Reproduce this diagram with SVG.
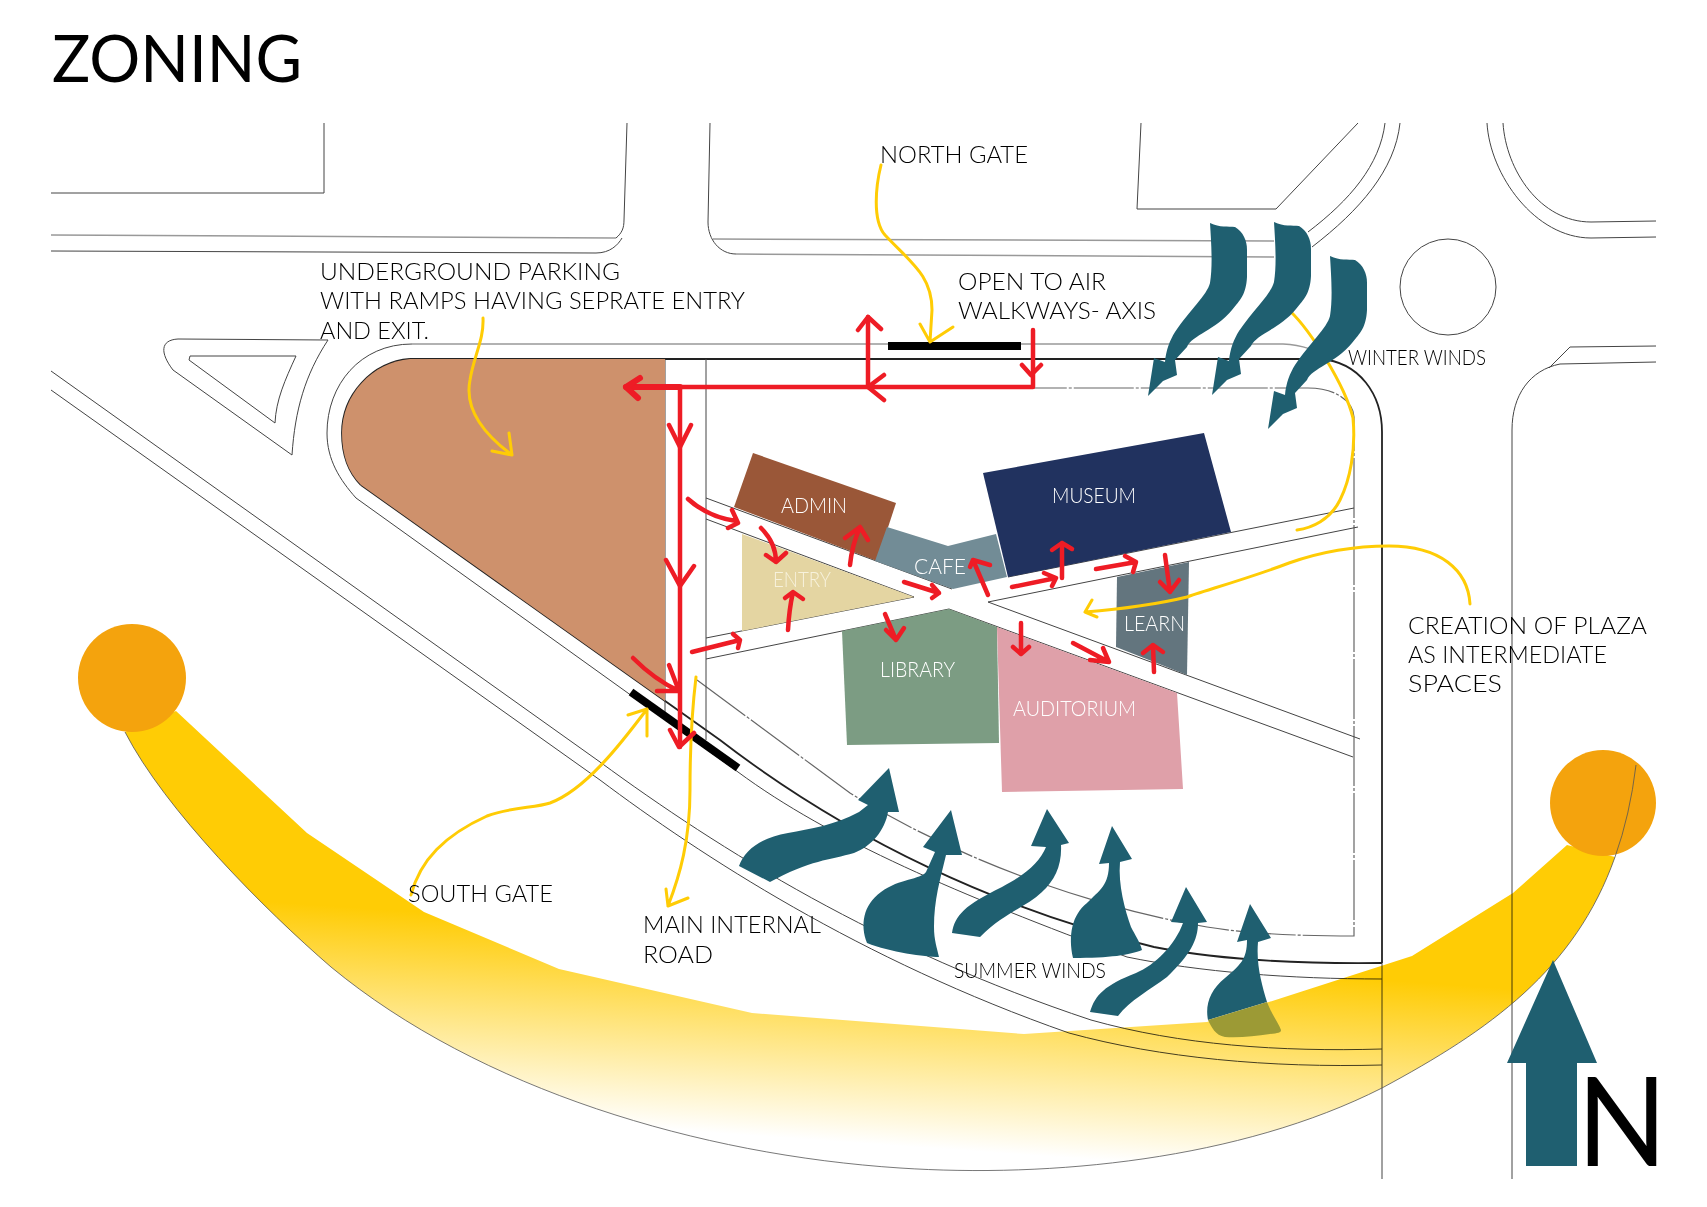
<svg xmlns="http://www.w3.org/2000/svg" width="1707" height="1207" viewBox="0 0 1707 1207">
<style>
text{font-family:"Lato","Liberation Sans",sans-serif;font-weight:300;fill:#000}
.l{font-size:24px}.m{font-size:21px}
.w{fill:#fff;font-size:21px}
.site{fill:none;stroke:#444;stroke-width:1}
.g{fill:none;stroke:#999;stroke-width:1.5}
.dash{fill:none;stroke:#666;stroke-width:1.2;stroke-dasharray:60 2 3 2}
.b{fill:none;stroke:#222;stroke-width:1.8}
.y{fill:none;stroke:#FFCC05;stroke-width:3;stroke-linecap:round;stroke-linejoin:round}
.r{fill:none;stroke:#EE1C25;stroke-width:4.5;stroke-linecap:round;stroke-linejoin:round}
.t{fill:#1F5F70}
</style>
<defs>
<linearGradient id="beamG" gradientUnits="userSpaceOnUse" x1="800" y1="939" x2="786" y2="1138">
<stop offset="0" stop-color="#FFCC05"/><stop offset="1" stop-color="#FFFFFF"/>
</linearGradient>
<path id="winter" d="M1210 223 C1220 228 1228 226 1235 227 C1243 232 1247 240 1247 250 L1247 277 C1246 295 1240 300 1232 310 C1216 330 1192 335 1187 347 L1175 360 L1177 375 L1163 381 L1148 396 L1154 358 L1165 362 C1166 350 1170 340 1175 332 C1190 310 1207 295 1210 283 C1213 265 1211 240 1210 223Z"/>
</defs>

<g id="site-lines">
<path class="site" d="M51 193H324V123"/>
<path class="g" d="M51 235L616 238"/>
<path class="site" d="M616 238C622 233 624 228 624 220L627 123"/>
<path class="site" d="M51 251L596 253C610 253 618 245 622 238"/>
<path class="site" d="M710 123L708 222C708 240 720 254 736 254"/>
<path class="g" d="M713 239L1274 241M736 254L1274 257"/>
<path class="site" d="M1141 123L1137 209H1276L1358 123"/>
<path class="site" d="M1308 232C1350 200 1380 165 1385 123M1312 247C1360 210 1395 170 1400 123"/>
<path class="site" d="M1487 123C1490 175 1535 238 1591 238L1656 237M1503 123C1506 170 1540 222 1591 222L1656 221"/>
<circle class="site" cx="1448" cy="287" r="48"/>
<path class="site" d="M1656 346L1570 347L1549 368M1656 362L1560 364C1530 370 1512 395 1512 430V1179"/>
<path class="g" d="M412 344H1283C1305 345 1320 352 1330 360"/>
<path class="site" d="M412 344C360 344 327 385 327 433C327 460 340 480 356 498L738 772C830 840 960 895 1127 957C1200 972 1290 979 1382 979"/>
<path class="b" d="M410 359H1320C1360 362 1382 395 1382 432V963"/>
<path class="b" d="M361 485L720 740C850 840 1000 910 1154 947C1220 960 1300 964 1382 963"/>
<path class="b" d="M410 359C372 362 342 395 342 433C342 455 348 472 361 485"/>
<path class="site" d="M1382 963V1179" stroke="#888"/>
<path class="site" d="M51 371L600 762C720 850 880 950 1091 1020C1180 1045 1280 1052 1382 1049"/>
<path class="site" d="M51 390L600 780C700 855 860 960 1069 1033C1160 1058 1270 1068 1382 1065"/>
<path class="dash" d="M697 680L850 793C950 855 1080 905 1207 927C1250 934 1300 936 1354 936V417C1354 405 1340 388 1308 388H1033"/>
<path class="site" d="M178 339L328 340C305 375 295 410 292 455L173 370C160 353 160 340 178 339Z"/>
<path class="site" d="M190 356H296C285 380 276 400 275 423L189 360Z"/>
<path class="site" d="M665 359V713M706 359V740"/>
<path class="site" d="M706 498L952 589M706 519L914 597M988 602L1360 739M949 609L1353 757M1008 577L1354 508M988 602L1358 527M706 638L914 597M706 659L949 609"/>
</g>

<g id="node-parking"><path d="M410 359H665V701L361 485C348 472 342 455 342 433C342 395 372 362 410 359Z" fill="#CE916C"/></g>
<g id="node-admin"><path d="M753 453L896 503L877 561L734 507Z" fill="#9A5738"/><text class="w" x="781" y="513" textLength="66" lengthAdjust="spacingAndGlyphs">ADMIN</text></g>
<g id="node-cafe"><path d="M887 527L948 546L996 534L1007 577L953 589L875 561Z" fill="#728C96"/><text class="w" x="914" y="574" textLength="52" lengthAdjust="spacingAndGlyphs">CAFE</text></g>
<g id="node-entry"><path d="M742 534L914 597L742 631Z" fill="#E4D5A2"/><text class="w" style="fill:#F7F2DC" x="773" y="587" textLength="58" lengthAdjust="spacingAndGlyphs">ENTRY</text></g>
<g id="node-museum"><path d="M983 473L1204 433L1231 532L1008 577Z" fill="#21325F"/><text class="w" x="1052" y="503" textLength="84" lengthAdjust="spacingAndGlyphs">MUSEUM</text></g>
<g id="node-learn"><path d="M1117 577L1189 562L1187 675L1116 647Z" fill="#63757E"/><text class="w" x="1124" y="631" textLength="61" lengthAdjust="spacingAndGlyphs">LEARN</text></g>
<g id="node-library"><path d="M842 631L949 609L997 627L999 743L847 745Z" fill="#7C9C83"/><text class="w" x="880" y="677" textLength="75" lengthAdjust="spacingAndGlyphs">LIBRARY</text></g>
<g id="node-auditorium"><path d="M997 627L1177 693L1183 789L1002 792Z" fill="#DFA0A9"/><text class="w" x="1013" y="716" textLength="123" lengthAdjust="spacingAndGlyphs">AUDITORIUM</text></g>

<g id="gates">
<rect x="888" y="342" width="133" height="8" fill="#000"/>
<path d="M631 692L738 768" stroke="#000" stroke-width="8" fill="none"/>
</g>

<g id="connectors">
<g id="leaders">
<path class="y" d="M483 318C484 340 474 355 470 380C464 410 485 435 512 455M492 451L512 455L509 433"/>
<path class="y" d="M881 165C876 185 872 220 885 235C910 262 932 275 932 310L930 342M920 324L930 342L953 327"/>
<path class="y" d="M1290 311C1310 330 1345 385 1353 418C1356 450 1350 480 1340 500C1330 520 1312 528 1297 530"/>
<path class="y" d="M1470 604C1468 570 1440 546 1389 546C1350 546 1320 552 1289 563C1250 578 1200 592 1187 597C1150 606 1110 610 1085 612M1092 600L1085 612L1097 617"/>
<path class="y" d="M411 895C420 860 445 835 487 816C510 807 535 808 550 803C585 790 620 745 647 709M628 715L647 709L647 736"/>
<path class="y" d="M696 677C692 710 690 750 690 790C690 840 680 875 668 906M666 889L668 906L688 898"/>
</g>
<g id="red-paths">
<path class="r" style="stroke-width:6" d="M626 387H680"/>
<path class="r" d="M680 387H1033V330M680 387V747M868 387V317"/>
<path class="r" style="stroke-width:6" d="M640 378L626 387L638 398"/>
<path class="r" d="M884 375L868 387L884 400M858 330L868 317L881 329M1022 365L1031 375L1041 365M669 425L680 447L691 425M666 560L680 586L694 566M670 730L679 747L694 733"/>
<path class="r" d="M688 499Q708 517 736 521M732 510L738 523L728 528"/>
<path class="r" d="M761 528Q776 543 776 562M766 555L776 562L786 553"/>
<path class="r" d="M850 565Q852 545 860 527M845 538L860 527L868 540"/>
<path class="r" d="M904 582L939 593M932 585L939 593L932 598"/>
<path class="r" d="M988 595L973 560M970 567L973 560L990 565"/>
<path class="r" d="M1012 587L1056 578M1044 573L1056 578L1052 586"/>
<path class="r" d="M1062 578V543M1052 550L1062 543L1072 549"/>
<path class="r" d="M1096 569L1136 562M1125 556L1136 562L1133 572"/>
<path class="r" d="M1165 555L1170 592M1160 582L1170 592L1179 580"/>
<path class="r" d="M1154 672L1153 645M1143 653L1153 645L1163 652"/>
<path class="r" d="M1073 643L1109 662M1103 648L1109 662L1090 660"/>
<path class="r" d="M1021 623V654M1013 647L1021 654L1029 647"/>
<path class="r" d="M885 614L896 640M886 630L896 640L904 628"/>
<path class="r" d="M788 630Q789 610 793 592M785 598L793 592L803 599"/>
<path class="r" d="M692 652L740 640M733 634L740 640L738 648"/>
<path class="r" d="M633 658Q655 680 679 691M657 691L679 691L669 665"/>
</g>
</g>

<g id="sun-path">
<path d="M176 711L307 833L424 912L559 969L752 1013L1024 1034L1207 1022L1412 956L1513 893L1567 845L1615 857C1575 970 1490 1030 1382 1088C1240 1160 1050 1178 900 1168C700 1155 480 1090 331 967C265 910 165 810 125 732Z" fill="url(#beamG)" style="mix-blend-mode:multiply"/>
<circle cx="132" cy="678" r="54" fill="#F4A30D"/>
<circle cx="1603" cy="803" r="53" fill="#F4A30D"/>
<path d="M1636 765Q1630 815 1615 857C1575 970 1490 1030 1382 1088C1240 1160 1050 1178 900 1168C700 1155 480 1090 331 967C265 910 165 810 125 732" fill="none" stroke="#555" stroke-width="0.8"/>
</g>

<g id="winter-winds">
<use href="#winter" class="t"/>
<use href="#winter" class="t" x="64" y="-1"/>
<use href="#winter" class="t" x="120" y="33"/>
</g>
<g id="summer-winds">
<path class="t" d="M739 866C745 850 760 838 788 833C810 829 835 825 859 812L868 805L858 800L889 768L899 812L888 812C885 830 872 846 854 853C830 860 810 860 770 882Z"/>
<path class="t" d="M867 943C860 925 863 905 881 892C900 878 920 880 926 872L935 852L923 847L951 810L962 855L946 855C940 880 934 900 934 927C934 940 937 948 939 957C925 957 890 952 867 943Z"/>
<path class="t" d="M952 933C955 915 965 905 1002 887C1025 875 1040 862 1046 847L1031 846L1047 809L1069 843L1061 845C1062 865 1055 880 1042 892C1025 908 1005 912 980 937Z"/>
<path class="t" d="M1073 958C1068 935 1072 915 1087 903C1100 890 1109 885 1109 863L1099 864L1112 826L1132 859L1120 862C1118 885 1125 910 1131 927C1135 935 1140 942 1142 950C1130 955 1110 958 1073 958Z"/>
<path class="t" d="M1090 1012C1095 995 1105 985 1136 973C1155 965 1175 945 1183 923L1171 922L1186 887L1207 922L1198 923C1198 940 1190 955 1167 977C1150 990 1130 1000 1118 1016Z"/>
<path class="t" d="M1208 1020C1205 1005 1210 990 1225 978C1240 965 1247 960 1247 940L1237 942L1250 904L1271 938L1258 942C1256 965 1262 985 1267 1002Z"/>
<path d="M1208 1020L1267 1002C1272 1015 1278 1022 1281 1030C1281 1033 1278 1033 1270 1034C1255 1036 1240 1038 1225 1037C1215 1035 1212 1028 1208 1020Z" fill="#9C9A35"/>
</g>

<g id="north-arrow">
<path class="t" d="M1553 960L1597 1063H1577V1166H1526V1063H1507Z"/>
<text x="1577" y="1166" font-size="125" style="font-weight:400" textLength="90" lengthAdjust="spacingAndGlyphs">N</text>
</g>

<g id="labels">
<text x="52" y="82" font-size="65" style="font-weight:400" textLength="250" lengthAdjust="spacingAndGlyphs">ZONING</text>
<text class="l" x="320" y="280" textLength="300" lengthAdjust="spacingAndGlyphs">UNDERGROUND PARKING</text>
<text class="l" x="320" y="309" textLength="425" lengthAdjust="spacingAndGlyphs">WITH RAMPS HAVING SEPRATE ENTRY</text>
<text class="l" x="320" y="339" textLength="109" lengthAdjust="spacingAndGlyphs">AND EXIT.</text>
<text class="l" x="880" y="163" textLength="148" lengthAdjust="spacingAndGlyphs">NORTH GATE</text>
<text class="l" x="958" y="290" textLength="148" lengthAdjust="spacingAndGlyphs">OPEN TO AIR</text>
<text class="l" x="958" y="319" textLength="198" lengthAdjust="spacingAndGlyphs">WALKWAYS- AXIS</text>
<text class="m" x="1348" y="365" textLength="138" lengthAdjust="spacingAndGlyphs">WINTER WINDS</text>
<text class="l" x="1408" y="634" textLength="239" lengthAdjust="spacingAndGlyphs">CREATION OF PLAZA</text>
<text class="l" x="1408" y="663" textLength="199" lengthAdjust="spacingAndGlyphs">AS INTERMEDIATE</text>
<text class="l" x="1408" y="692" textLength="94" lengthAdjust="spacingAndGlyphs">SPACES</text>
<text class="l" x="408" y="902" textLength="145" lengthAdjust="spacingAndGlyphs">SOUTH GATE</text>
<text class="l" x="643" y="933" textLength="178" lengthAdjust="spacingAndGlyphs">MAIN INTERNAL</text>
<text class="l" x="643" y="963" textLength="70" lengthAdjust="spacingAndGlyphs">ROAD</text>
<text class="m" x="954" y="978" textLength="152" lengthAdjust="spacingAndGlyphs">SUMMER WINDS</text>
</g>
</svg>
